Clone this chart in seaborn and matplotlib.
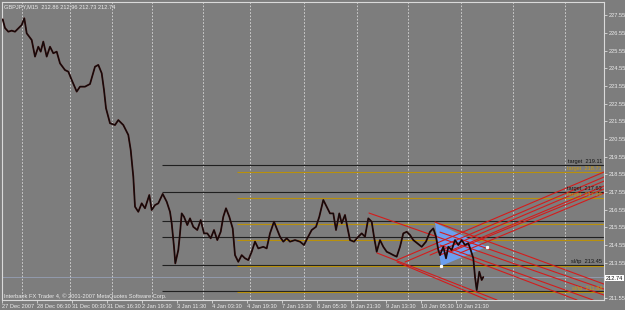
import matplotlib
matplotlib.use('Agg')
import matplotlib.pyplot as plt
import seaborn as sns
import pandas as pd

sns.set_theme(style='white')
plt.rcParams['font.family'] = ['Liberation Sans', 'DejaVu Sans']

# ---- data (time axis in chart bar-position units) ----
time_pos = [2.7, 5, 8.3, 11.7, 15, 18.3, 21.7, 24.3, 26.7, 31.7, 35, 38.3, 40.7, 43.3, 46.7, 50,
            53.3, 56.7, 60, 65, 68.3, 71.7, 76.7, 80, 85, 90, 95, 98.3, 101.7, 104, 106, 110,
            115, 118.3, 123.3, 128.3, 130.7, 133.3, 135, 138.3, 141.7, 145, 149.3, 151.7, 155,
            158.3, 162.7, 166.7, 170, 171.7, 174, 175.3, 178.3, 180, 181.7, 184, 187.3, 190,
            193.3, 197.3, 200.7, 204, 207.3, 210.7, 214, 217.3, 220.7, 223.3, 226, 229.3, 232.7,
            235, 238.3, 241.7, 245, 248.3, 251.7, 255, 258.3, 263.3, 266.7, 270, 274, 276.7, 280,
            283.3, 286.7, 290, 295, 300, 304, 307.3, 311.7, 316, 319.3, 323.3, 326.7, 330, 333.3,
            336, 339.3, 341.7, 345, 347.3, 350, 354, 358.3, 361.7, 365, 368.3, 371.7, 374, 376.7,
            380, 383.3, 386.7, 390, 393.3, 396.7, 400, 403.3, 406.7, 410, 413.3, 417.3, 421.7,
            426, 430, 433.3, 436, 438.3, 440, 443.3, 446, 448.3, 451.7, 455, 458.3, 461.7, 465,
            468.3, 470.7, 473.3, 475, 476.7, 479.3, 481.7, 483.3]
price = [227.32, 226.83, 226.62, 226.68, 226.62, 226.81, 227.00, 227.38, 226.53, 226.15, 225.21,
         225.77, 225.49, 226.06, 225.21, 225.77, 225.40, 225.49, 224.83, 224.45, 224.36, 223.89,
         223.23, 223.51, 223.51, 223.66, 224.64, 224.74, 224.27, 223.32, 222.29, 221.44, 221.34,
         221.62, 221.34, 220.78, 219.93, 218.42, 216.72, 216.43, 216.91, 216.63, 217.38, 216.53,
         216.81, 216.91, 217.44, 217.00, 216.43, 215.78, 214.45, 213.51, 214.27, 215.21, 216.34,
         216.15, 215.68, 216.06, 215.58, 215.40, 215.96, 215.21, 215.21, 214.93, 215.40, 214.83,
         215.30, 216.15, 216.63, 216.15, 215.49, 213.98, 213.60, 213.98, 213.80, 213.70, 214.17,
         214.74, 214.36, 214.45, 214.36, 215.21, 215.87, 215.49, 215.02, 214.74, 214.93, 214.74,
         214.83, 214.74, 214.55, 214.93, 215.40, 215.58, 216.15, 217.10, 216.72, 216.34, 216.34,
         215.40, 216.34, 215.78, 216.25, 215.58, 214.83, 214.74, 215.02, 215.21, 215.02, 216.06,
         215.87, 215.02, 214.17, 214.83, 214.45, 214.17, 214.08, 213.98, 213.89, 214.45, 215.21,
         215.30, 215.12, 214.83, 214.65, 214.45, 214.74, 215.30, 215.49, 215.02, 214.27, 213.98,
         214.45, 213.80, 214.45, 214.27, 214.83, 214.55, 214.83, 214.55, 214.65, 214.27, 213.80,
         212.75, 212.00, 213.04, 212.57, 212.74]

# horizontal levels
black_levels = [219.05, 217.55, 215.91, 214.98, 213.40, 211.93]
orange_levels = [218.68, 217.21, 215.74, 214.81, 213.35, 211.87]
black_start, orange_start, level_end = 162, 237, 604
level_labels = [(219.05, 'target  219.11', '#151515'), (218.68, 'target  218.71', '#c89a10'),
                (217.55, 'target  217.63', '#151515'), (217.21, 'target  217.29', '#c89a10'),
                (213.40, 'sl/tp  213.45', '#151515'), (211.87, 'sl/tp  211.88', '#c89a10')]

# triangle (time, price)
tri_t = [435, 441, 487]
tri_p = [215.81, 213.36, 214.45]

# red channel lines: (t0, p0, t1, p1)
red_up = [(397, 213.70, 604, 218.68), (405, 213.59, 604, 218.40), (430, 213.98, 604, 218.17),
          (440, 213.98, 604, 217.89), (450, 214.15, 604, 217.72), (460, 214.10, 604, 217.49)]
red_down = [(369, 216.36, 604, 211.72), (377, 214.10, 497, 211.44), (397, 213.59, 487, 211.44),
            (435, 215.85, 604, 212.34), (440, 215.28, 604, 212.06), (440, 214.55, 593, 211.44),
            (445, 214.27, 577, 211.44)]

vgrid = [22, 70, 112, 152, 203, 250, 304, 357, 408, 461, 513, 565]
xtick_pos = [2, 37, 72, 107, 142, 177, 212, 247, 282, 317, 351, 386, 421, 456]
xtick_lab = ['27 Dec 2007', '28 Dec 06:30', '31 Dec 00:30', '31 Dec 16:30', '2 Jan 19:30',
             '3 Jan 11:30', '4 Jan 03:30', '4 Jan 19:30', '7 Jan 13:30', '8 Jan 05:30',
             '8 Jan 21:30', '9 Jan 13:30', '10 Jan 05:30', '10 Jan 21:30']
ytick_pos = [211.55, 212.55, 213.55, 214.55, 215.55, 216.55, 217.55, 218.55, 219.55, 220.55,
             221.55, 222.55, 223.55, 224.55, 225.55, 226.55, 227.55]
last_price = 212.74
header = 'GBPJPY,M15  212.86 212.96 212.73 212.74'
footer = 'Interbank FX Trader 4, \u00a9 2001-2007 MetaQuotes Software Corp.'

BG = '#7d7d7d'
FG = '#ececec'
FS = 4.1

fig = plt.figure(figsize=(6.25, 3.1), dpi=100, facecolor=BG)
ax = fig.add_axes([2 / 625, 10 / 310, 602 / 625, 298 / 310])
ax.set_facecolor(BG)
ax.set_xlim(2, 604)
ax.set_ylim(211.44, 228.30)

for x in vgrid:
    ax.axvline(x, color='#dadada', lw=0.6, ls=(0, (2, 2)), zorder=1)

ax.axhline(last_price, color='#9aa6c0', lw=0.5, zorder=1)

ax.hlines(black_levels, black_start, level_end, color='#202020', lw=0.8, zorder=2)
ax.hlines(orange_levels, orange_start, level_end, color='#b8900c', lw=0.8, zorder=2)

ax.fill(tri_t, tri_p, color='#6c9ff0', zorder=3, lw=0)
ax.plot([tri_t[1], tri_t[2]], [tri_p[1], tri_p[2]], 's', color='white', ms=1.3, zorder=6)

for t0, p0, t1, p1 in red_up + red_down:
    ax.plot([t0, t1], [p0, p1], color='#d41c1c', lw=0.8, zorder=4)

for p, txt, c in level_labels:
    ax.text(602, p + 0.06, txt, color=c, fontsize=FS, ha='right', va='bottom', zorder=7)

df = pd.DataFrame({'t': time_pos, 'price': price})
sns.lineplot(data=df, x='t', y='price', ax=ax, color='#3a0c0c', lw=1.3,
             estimator=None, sort=False, zorder=5)
sns.lineplot(data=df, x='t', y='price', ax=ax, color='#0a0a0a', lw=0.6,
             estimator=None, sort=False, zorder=6)

ax.set_xlabel('')
ax.set_ylabel('')
ax.yaxis.tick_right()
ax.set_yticks(ytick_pos)
ax.set_yticklabels(['' if abs(v - last_price) < 0.5 else f'{v:.2f}' for v in ytick_pos])
ax.set_xticks(xtick_pos)
ax.set_xticklabels(xtick_lab, ha='left')
ax.tick_params(axis='both', colors='#dadada', labelsize=FS, length=2, width=0.6, pad=1.2,
               labelcolor=FG)
ax.tick_params(axis='y', right=True, left=False)
ax.tick_params(axis='x', bottom=True)
for s in ax.spines.values():
    s.set_color('#dadada')
    s.set_linewidth(0.8)

ax.text(606 / 625, 1 - 278 / 310, f'{last_price:.2f}', transform=fig.transFigure,
        fontsize=FS, color='#101010', va='center', ha='left',
        bbox=dict(boxstyle='square,pad=0.12', fc='white', ec='none'))
ax.text(4, 228.05, header, fontsize=FS, color=FG, va='center', ha='left')
ax.text(4, 211.67, footer, fontsize=FS, color=FG, va='center', ha='left')

fig.savefig('out.png', dpi=100, facecolor=BG)
